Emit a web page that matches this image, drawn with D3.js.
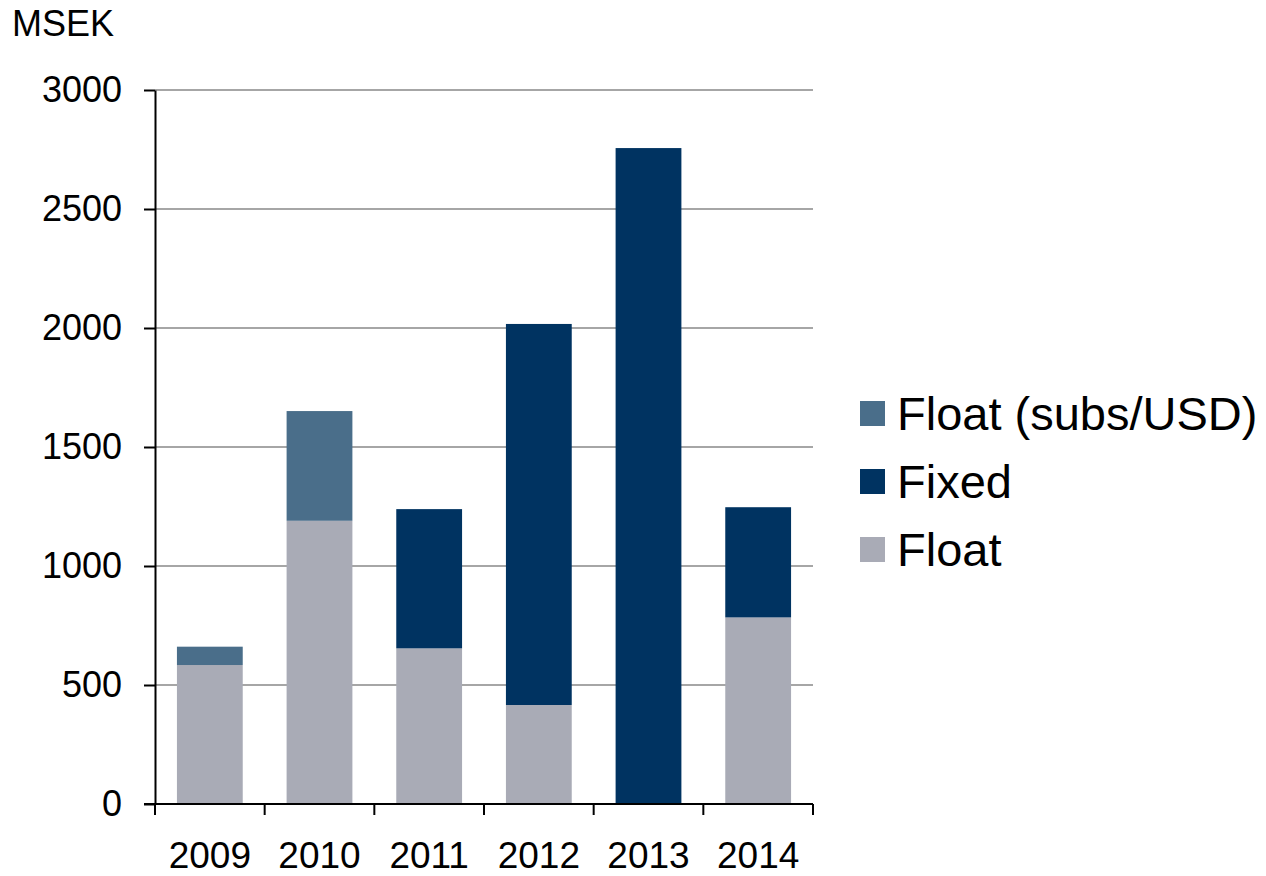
<!DOCTYPE html>
<html>
<head>
<meta charset="utf-8">
<script src="https://cdn.jsdelivr.net/npm/d3@7"></script>
<style>
  body { margin: 0; background: #fff; }
  text { font-family: "Liberation Sans", Arial, sans-serif; fill: #000; }
</style>
</head>
<body>
<script>
const years = ['2009', '2010', '2011', '2012', '2013', '2014'];
const floatVals = [584, 1190, 654, 416, 0, 784];
const fixedVals = [0, 0, 585, 1601, 2756, 463];
const floatSubsVals = [77, 461, 0, 0, 0, 0];
const yTicks = [0, 500, 1000, 1500, 2000, 2500, 3000];

const seriesKeys = ['float', 'fixed', 'floatSubs'];
const seriesNames = { float: 'Float', fixed: 'Fixed', floatSubs: 'Float (subs/USD)' };
const colors = { float: '#a9abb6', fixed: '#003361', floatSubs: '#4a6e8a' };

const rows = years.map((y, i) => ({
    year: y,
    float: floatVals[i],
    fixed: fixedVals[i],
    floatSubs: floatSubsVals[i]
}));

const width = 1266, height = 876;
const plotLeft = 155, plotRight = 813, plotTop = 90, plotBottom = 804;

const svg = d3.select('body').append('svg')
    .attr('width', width)
    .attr('height', height);

const x = d3.scaleBand()
    .domain(years)
    .range([plotLeft, plotRight])
    .paddingInner(0.4)
    .paddingOuter(0.2);

const y = d3.scaleLinear()
    .domain([0, 3000])
    .range([plotBottom, plotTop]);

// gridlines
svg.append('g')
    .selectAll('line')
    .data(yTicks.filter(d => d > 0))
    .enter().append('line')
    .attr('x1', plotLeft)
    .attr('x2', plotRight)
    .attr('y1', d => y(d))
    .attr('y2', d => y(d))
    .attr('stroke', '#a6a6a6')
    .attr('stroke-width', 2);

// stacked bars
const stack = d3.stack().keys(seriesKeys);
const layers = stack(rows);

svg.append('g')
    .selectAll('g')
    .data(layers)
    .enter().append('g')
    .attr('fill', d => colors[d.key])
    .selectAll('rect')
    .data(d => d.filter(s => s[1] > s[0]))
    .enter().append('rect')
    .attr('x', d => x(d.data.year))
    .attr('width', x.bandwidth())
    .attr('y', d => y(d[1]))
    .attr('height', d => y(d[0]) - y(d[1]));

// y axis
const yAxis = svg.append('g')
    .attr('transform', `translate(${plotLeft},0)`)
    .call(d3.axisLeft(y)
        .tickValues(yTicks)
        .tickFormat(d3.format('d'))
        .tickSize(11)
        .tickPadding(22)
        .tickSizeOuter(0));
yAxis.select('.domain').attr('stroke', '#000').attr('stroke-width', 2);
yAxis.selectAll('.tick line').attr('stroke', '#000').attr('stroke-width', 2);
yAxis.selectAll('.tick text')
    .style('font-size', '36px')
    .style('font-family', '"Liberation Sans", Arial, sans-serif')
    .attr('fill', '#000');

// x axis: ticks sit on the category boundaries
const step = x.step();
const xBoundaries = years.map(d => x(d) - step * 0.2).concat([plotRight]);
const xAxisG = svg.append('g');
xAxisG.append('line')
    .attr('x1', plotLeft - 11)
    .attr('x2', plotRight)
    .attr('y1', plotBottom)
    .attr('y2', plotBottom)
    .attr('stroke', '#000')
    .attr('stroke-width', 2);
xAxisG.selectAll('.xtick')
    .data(xBoundaries)
    .enter().append('line')
    .attr('x1', d => d)
    .attr('x2', d => d)
    .attr('y1', plotBottom)
    .attr('y2', plotBottom + 11)
    .attr('stroke', '#000')
    .attr('stroke-width', 2);
xAxisG.selectAll('.xlabel')
    .data(years)
    .enter().append('text')
    .attr('x', d => x(d) + x.bandwidth() / 2)
    .attr('y', 868)
    .attr('text-anchor', 'middle')
    .style('font-size', '37px')
    .text(d => d);

// unit label
svg.append('text')
    .attr('x', 12)
    .attr('y', 36)
    .style('font-size', '36px')
    .text('MSEK');

// legend (top to bottom, reverse of stack order)
const legendKeys = seriesKeys.slice().reverse();
const legend = svg.append('g')
    .selectAll('g')
    .data(legendKeys)
    .enter().append('g')
    .attr('transform', (d, i) => `translate(860,${430 + i * 68})`);

legend.append('rect')
    .attr('x', 0)
    .attr('y', -29)
    .attr('width', 25)
    .attr('height', 25)
    .attr('fill', d => colors[d]);

legend.append('text')
    .attr('x', 37)
    .attr('y', 0)
    .style('font-size', '47px')
    .text(d => seriesNames[d]);
</script>
</body>
</html>
